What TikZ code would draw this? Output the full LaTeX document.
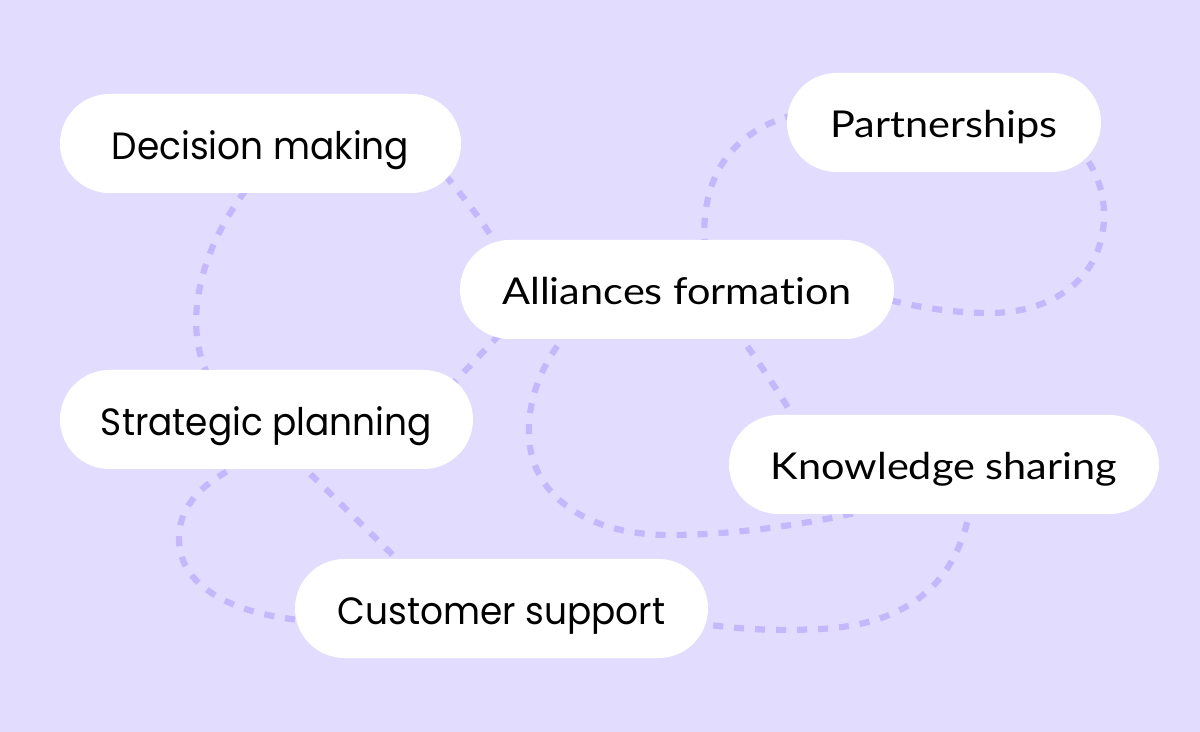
\documentclass[tikz,border=0pt]{standalone}
\usepackage{fontspec}
\newfontfamily\fontA[FakeStretch=0.945]{Poppins}
\newfontfamily\fontB[FakeStretch=1.12,Ligatures=NoCommon]{Lato}
\usetikzlibrary{calc}
\definecolor{bgcol}{HTML}{E2DDFE}
\definecolor{dashcol}{HTML}{C4B7FC}
\pgfdeclarelayer{bglayer}
\pgfdeclarelayer{lines}
\pgfsetlayers{bglayer,lines,main}
\begin{document}
\begin{tikzpicture}[x=0.5pt,y=-0.5pt,
  pill/.style={fill=white, rounded corners=24.75pt, minimum height=49.5pt, inner sep=0pt, text depth=0pt},
  conn/.style={draw=dashcol, line width=3.1pt, dash pattern=on 5pt off 5.5pt},
  fa/.style={font=\fontA\fontsize{19}{19}\selectfont, text height=15.8pt},
  fb/.style={font=\fontB\fontsize{18.5}{18.5}\selectfont, text height=15.2pt}]
\useasboundingbox (0,0) rectangle (1200,732);

\node[pill,fa,minimum width=200.5pt] (dm) at (260.5,143.5) {Decision making};
\node[pill,fb,minimum width=157pt] (pa) at (944,122.5) {Partnerships};
\node[pill,fb,minimum width=217pt] (af) at (677,289.5) {Alliances formation};
\node[pill,fa,minimum width=206.5pt] (sp) at (266.5,419.5) {Strategic planning};
\node[pill,fb,minimum width=215pt] (ks) at (944,464.5) {Knowledge sharing};
\node[pill,fa,minimum width=206.5pt] (cs) at (501.5,608.5) {Customer support};

\begin{pgfonlayer}{bglayer}
\fill[bgcol] (0,0) rectangle (1200,732);
\end{pgfonlayer}

\begin{pgfonlayer}{lines}
% Decision making -- Strategic planning
\draw[conn] ($(dm.south)+(-15,-3)$) .. controls (197,255) and (182,330) .. ($(sp.north)+(-56,10)$);
% Decision making -- Alliances formation
\draw[conn] ($(dm.east)+(-16,32)$) .. controls (470,205) and (485,225) .. ($(af.west)+(40,-40)$);
% Alliances formation -- Strategic planning
\draw[conn] ($(af.west)+(40,45)$) -- ($(sp.east)+(-28,-28)$);
% Partnerships -- Alliances formation
\draw[conn] ($(pa.west)+(8,-8)$) .. controls (720,135) and (700,190) .. ($(af.north)+(28,10)$);
% Partnerships -- Alliances formation (right loop)
\draw[conn] ($(pa.east)+(-26,23)$) .. controls (1095,165) and (1104,190) .. (1104,215)
  .. controls (1104,280) and (1050,313) .. (990,313)
  .. controls (950,313) and (910,306) .. ($(af.east)+(-14,8)$);
% Alliances formation -- Knowledge sharing (loop)
\draw[conn] ($(af.south)+(-107,-10)$) .. controls (540,365) and (528,400) .. (529,435)
  .. controls (530,490) and (580,535) .. (670,535)
  .. controls (740,535) and (820,522) .. ($(ks.south)+(-74,-5)$);
% Alliances formation -- Knowledge sharing
\draw[conn] ($(af.south)+(58,-10)$) .. controls (758,360) and (780,395) .. ($(ks.north)+(-144,12)$);
% Strategic planning -- Customer support
\draw[conn] ($(sp.south)+(29,-10)$) -- ($(cs.north)+(-97,8)$);
% Strategic planning -- Customer support (loop)
\draw[conn] ($(sp.south)+(-21,-7)$) .. controls (205,480) and (178,505) .. (179,540)
  .. controls (180,590) and (240,615) .. ($(cs.west)+(10,12)$);
% Customer support -- Knowledge sharing
\draw[conn] ($(cs.east)+(-16,14)$) .. controls (740,630) and (780,631) .. (820,629)
  .. controls (900,625) and (955,590) .. ($(ks.south)+(26,-5)$);
\end{pgfonlayer}
\end{tikzpicture}
\end{document}
